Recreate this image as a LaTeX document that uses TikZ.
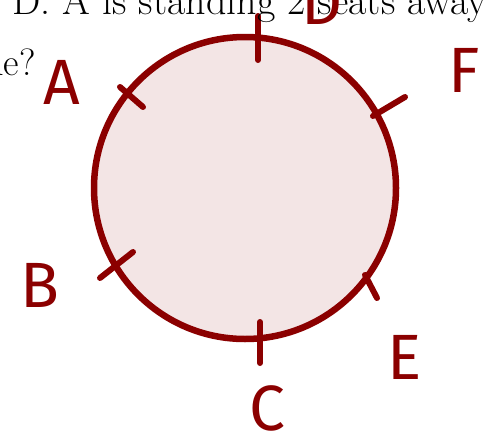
\documentclass[tikz,border=0pt]{standalone}
\usepackage{fontspec}
\setsansfont{Fira Sans}
\usetikzlibrary{positioning,calc}
\definecolor{inkred}{RGB}{139,0,0}

\begin{document}
\begin{tikzpicture}[x=1pt, y=-1pt, line cap=round, ring/.style={circle, draw=inkred, fill=inkred!10, line width=6.5pt, minimum size=302pt, inner sep=0pt}, mark line/.style={draw=inkred, line width=6pt}, seat/.style={text=inkred, font=\sffamily\fontsize{64}{64}\selectfont, inner sep=0pt}, printed/.style={font=\fontsize{38}{44}\selectfont, inner sep=0pt}]
\useasboundingbox (0,0) rectangle (484,447);
\node[ring] (table) at (245,188) {};
% marks on the ring
\foreach \a/\b in {{(258,16)}/{(258,60)}, {(120,87)}/{(143,107)}, {(373,116)}/{(405,97)}, {(100,278)}/{(133,252)}, {(260,322)}/{(260,363)}, {(365,275)}/{(377,298)}}
  \draw[mark line] \a -- \b;
\node[printed, anchor=base west, font=\fontsize{40}{44}\selectfont] (question) at (12,14) {D. A is standing 2 seats away from};
\node[printed, anchor=base east] (qend) at (36,75) {table?};
% handwritten seats
\node[seat] (A) at (62,82) {A};
\node[seat] (B) at (40,285) {B};
\node[seat] (C) at (267,408) {C};
\node[seat] (D) at (322,2) {D};
\node[seat] (E) at (405,357) {E};
\node[seat] (F) at (464,70) {F};
\end{tikzpicture}
\end{document}
